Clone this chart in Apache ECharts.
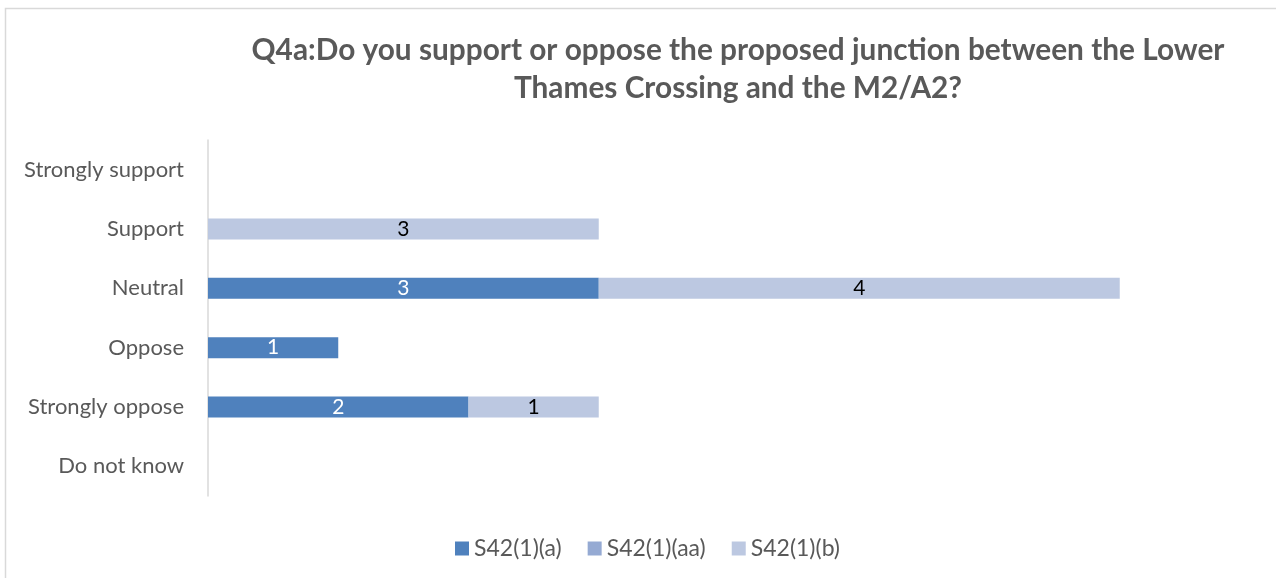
<!DOCTYPE html>
<html>
<head>
<meta charset="utf-8">
<script src="https://cdn.jsdelivr.net/npm/echarts@6/dist/echarts.min.js"></script>
<style>
  html, body { margin: 0; padding: 0; background: #ffffff; }
  #chart { width: 1276px; height: 578px; }
</style>
</head>
<body>
<div id="chart"></div>
<script>
// Response categories, listed top to bottom
var categories = ['Strongly support', 'Support', 'Neutral', 'Oppose', 'Strongly oppose', 'Do not know'];
// Respondent counts per section
var seriesNames = ['S42(1)(a)', 'S42(1)(aa)', 'S42(1)(b)'];
var valuesA  = [0, 0, 3, 1, 2, 0];
var valuesAA = [0, 0, 0, 0, 0, 0];
var valuesB  = [0, 3, 4, 0, 1, 0];

var colors = ['#4F81BD', '#95AAD3', '#BCC8E1'];
var labelColors = ['#ffffff', '#000000', '#000000'];
var FONT = 'Lato, "Open Sans", sans-serif';

var chart = echarts.init(document.getElementById('chart'), null, { renderer: 'canvas' });

function makeSeries(name, data, idx) {
  return {
    name: name,
    type: 'bar',
    stack: 'total',
    data: data,
    barWidth: 21,
    itemStyle: { color: colors[idx] },
    label: {
      show: true,
      position: 'inside',
      color: labelColors[idx],
      fontFamily: FONT,
      fontSize: 21,
      formatter: function (p) { return p.value ? String(p.value) : ''; }
    },
    emphasis: { disabled: true }
  };
}

chart.setOption({
  animation: false,
  textStyle: { fontFamily: FONT },
  title: {
    text: 'Q4a:Do you support or oppose the proposed junction between the Lower\nThames Crossing and the M2/A2?',
    left: 733,
    top: 26,
    textAlign: 'center',
    textStyle: {
      fontFamily: FONT,
      fontSize: 29.8,
      fontWeight: 'bold',
      color: '#595959',
      lineHeight: 38,
      align: 'center'
    }
  },
  graphic: [{
    type: 'rect',
    shape: { x: 5.5, y: 8.5, width: 1300, height: 620 },
    style: { fill: 'none', stroke: '#d9d9d9', lineWidth: 1.5 },
    silent: true
  }],
  legend: {
    data: seriesNames,
    bottom: 13,
    left: 450,
    itemWidth: 14,
    itemHeight: 14,
    itemGap: 26,
    icon: 'rect',
    textStyle: { fontFamily: FONT, fontSize: 23, color: '#595959', padding: [0, 0, 0, 0] }
  },
  grid: { left: 208, top: 140, width: 1042, height: 356, containLabel: false },
  xAxis: {
    type: 'value',
    min: 0,
    max: 8,
    interval: 1,
    show: false
  },
  yAxis: {
    type: 'category',
    data: categories,
    inverse: true,
    axisLine: { show: true, lineStyle: { color: '#d9d9d9', width: 1.5 } },
    axisTick: { show: false },
    axisLabel: { color: '#595959', fontSize: 22, fontFamily: FONT, margin: 24 }
  },
  series: [
    makeSeries(seriesNames[0], valuesA, 0),
    makeSeries(seriesNames[1], valuesAA, 1),
    makeSeries(seriesNames[2], valuesB, 2)
  ]
});
</script>
</body>
</html>
